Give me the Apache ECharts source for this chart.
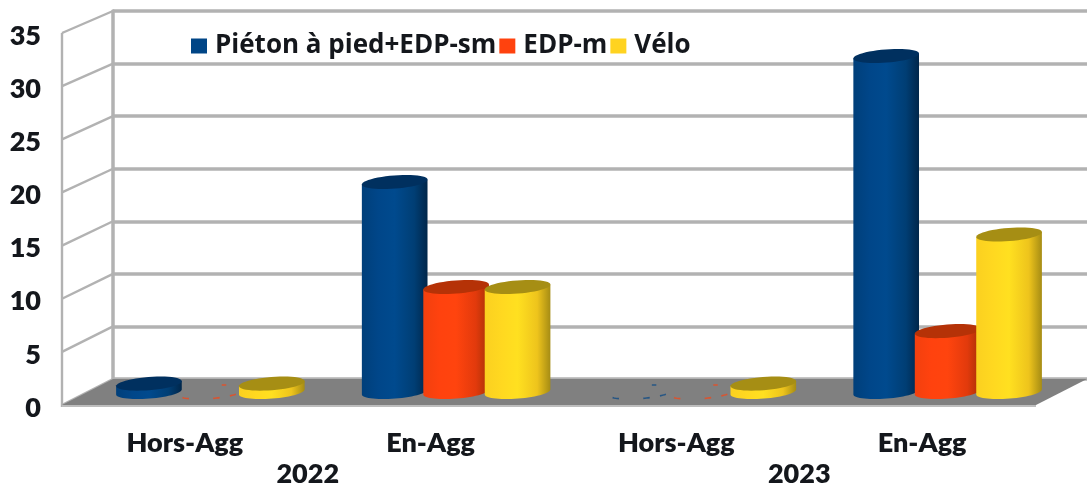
<!DOCTYPE html>
<html><head><meta charset="utf-8">
<style>html,body{margin:0;padding:0;background:#fff}#c{width:1087px;height:488px}</style>
<script src="https://cdn.jsdelivr.net/npm/echarts@6/dist/echarts.min.js"></script>
</head><body><div id="c"></div>
<script>
const categories = ['Hors-Agg', 'En-Agg', 'Hors-Agg', 'En-Agg'];
const years = ['2022', '2023'];
const yTicks = [0, 5, 10, 15, 20, 25, 30, 35];
const seriesNames = ['Piéton à pied+EDP-sm', 'EDP-m', 'Vélo'];
const pietonValues = [0.8, 20, 0, 32];
const edpmValues = [0, 10, 0, 5.8];
const veloValues = [0.8, 10, 0.8, 15];

const chart = echarts.init(document.getElementById('c'), null, {renderer: 'canvas'});
const FONT = 'Lato';
const TXT = '#14171c';
const WALL = '#b2b2b2';
const DEPTH_X = -51, DEPTH_Y0 = 26, DEPTH_YT = 22;

const looks = [
  {main: '#004586', top: '#00305f', stops: ['#003f7a', '#004689', '#004a8e', '#003e74', '#00264a']},
  {main: '#ff420e', top: '#b53207', stops: ['#f2400e', '#ff420e', '#ff440e', '#e23a0c', '#a83006']},
  {main: '#ffd320', top: '#a68e14', stops: ['#fbd020', '#ffd820', '#ffe020', '#eec41c', '#a68c14']}
];

function ell(cx, cy, rx, ry, t) {
  const a = -4.5 * Math.PI / 180;
  return [cx + rx * Math.cos(t) * Math.cos(a) - ry * Math.sin(t) * Math.sin(a),
          cy + rx * Math.cos(t) * Math.sin(a) + ry * Math.sin(t) * Math.cos(a)];
}
function arc(cx, cy, rx, ry, t0, t1, n) {
  const p = [];
  for (let i = 0; i <= n; i++) p.push(ell(cx, cy, rx, ry, t0 + (t1 - t0) * i / n));
  return p;
}

function cylinder(idx) {
  const look = looks[idx];
  return function (params, api) {
    const v = api.value(1);
    const base = api.coord([api.value(0), 0]);
    const top = api.coord([api.value(0), v]);
    const band = api.size([1, 0])[0];
    const cx = base[0] + (idx - 1) * band * 0.25;
    const rx = band * 0.134, ry = 6.6;
    const children = [];
    if (v === 0) {
      // the zero-height cylinders leave only small flecks of colour on the floor
      [[2.3, 2.6], [1.3, 1.5], [0.7, 0.95], [-1.2, -1.05]].forEach(function (r) {
        children.push({type: 'polyline', shape: {points: arc(cx, base[1], rx, ry, r[0], r[1], 4)},
          style: {fill: null, stroke: look.main, lineWidth: 1.6, opacity: 0.7}});
      });
      return {type: 'group', children: children};
    }
    const body = arc(cx, base[1], rx, ry, Math.PI, 0, 30);
    body.unshift(ell(cx, top[1], rx, ry, Math.PI));
    body.push(ell(cx, top[1], rx, ry, 0));
    children.push({type: 'polygon', shape: {points: body}, style: {
      fill: new echarts.graphic.LinearGradient(0, 0, 1, 0, [
        {offset: 0, color: look.stops[0]}, {offset: 0.25, color: look.stops[1]},
        {offset: 0.5, color: look.stops[2]}, {offset: 0.8, color: look.stops[3]},
        {offset: 1, color: look.stops[4]}])
    }});
    children.push({type: 'polygon', shape: {points: arc(cx, top[1], rx, ry, 0, Math.PI * 2, 48)},
      style: {fill: look.top}});
    return {type: 'group', children: children};
  };
}

function floorItem(params, api) {
  const s = params.coordSys;
  const y = s.y + s.height;
  return {type: 'group', children: [
    {type: 'polygon', shape: {points: [[s.x, y], [s.x + s.width, y],
      [s.x + s.width + DEPTH_X, y + DEPTH_Y0], [s.x + DEPTH_X, y + DEPTH_Y0]]},
      style: {fill: '#808080'}},
    {type: 'line', shape: {x1: s.x + DEPTH_X, y1: y + DEPTH_Y0 + 1, x2: s.x + s.width + DEPTH_X, y2: y + DEPTH_Y0 + 1},
      style: {stroke: '#bdbdbd', lineWidth: 2}}
  ]};
}
function wallItem(params, api) {
  const v = api.value(0);
  const s = params.coordSys;
  const y = api.coord([0, v])[1];
  const x0 = s.x;
  const dy = DEPTH_Y0 + (DEPTH_YT - DEPTH_Y0) * v / 35;
  const children = [{type: 'line', shape: {x1: x0, y1: y, x2: x0 + DEPTH_X, y2: y + dy},
    style: {stroke: WALL, lineWidth: 2.4}}];
  if (v === 35) {
    children.push({type: 'line', shape: {x1: x0 + DEPTH_X, y1: y + dy, x2: x0 + DEPTH_X, y2: s.y + s.height + DEPTH_Y0 + 2},
      style: {stroke: WALL, lineWidth: 2.4}});
  }
  return {type: 'group', children: children};
}

const valueSets = [pietonValues, edpmValues, veloValues];

chart.setOption({
  animation: false,
  backgroundColor: '#fff',
  grid: [
    {left: 113, top: 11, width: 983, height: 368},
    {left: 62, top: 36, width: 983, height: 373},
    {left: 87.5, top: 24.5, width: 983, height: 367.5}
  ],
  xAxis: [
    {gridIndex: 0, type: 'category', data: categories, show: false},
    {gridIndex: 1, type: 'category', data: categories, position: 'bottom',
     axisLine: {show: false}, axisTick: {show: false}, splitLine: {show: false},
     axisLabel: {margin: 22, fontFamily: FONT, fontWeight: 800, fontSize: 27, color: TXT}},
    {gridIndex: 1, type: 'category', data: years, position: 'bottom',
     axisLine: {show: false}, axisTick: {show: false}, splitLine: {show: false},
     axisLabel: {margin: 53, fontFamily: FONT, fontWeight: 800, fontSize: 27, color: TXT}},
    {gridIndex: 2, type: 'category', data: categories, show: false}
  ],
  yAxis: [
    {gridIndex: 0, type: 'value', min: 0, max: 35, interval: 5,
     axisLine: {show: true, lineStyle: {color: WALL, width: 3.5}}, axisTick: {show: false},
     axisLabel: {show: false}, splitLine: {show: true, lineStyle: {color: WALL, width: 3.5}}},
    {gridIndex: 1, type: 'value', min: 0, max: 35, interval: 5,
     axisLine: {show: false}, axisTick: {show: false}, splitLine: {show: false},
     axisLabel: {margin: 21, fontFamily: FONT, fontWeight: 800, fontSize: 27, color: TXT}},
    {gridIndex: 2, type: 'value', min: 0, max: 35, interval: 5, show: false}
  ],
  legend: {
    left: 186, top: 28, itemWidth: 16, itemHeight: 15, itemGap: 3, icon: 'rect',
    data: seriesNames,
    textStyle: {fontFamily: 'Open Sans', fontWeight: 700, fontSize: 26, color: TXT, padding: [0, 0, 0, 3]}
  },
  series: [
    {type: 'custom', xAxisIndex: 0, yAxisIndex: 0, z: 3, silent: true, data: [[0]], renderItem: floorItem},
    {type: 'custom', xAxisIndex: 0, yAxisIndex: 0, z: 2, silent: true, data: yTicks.map(v => [v]), renderItem: wallItem}
  ].concat(seriesNames.map(function (name, i) {
    return {
      name: name, type: 'custom', xAxisIndex: 3, yAxisIndex: 2, z: 5 + i,
      itemStyle: {color: looks[i].main},
      encode: {x: 0, y: 1},
      data: valueSets[i].map((v, k) => [k, v]),
      renderItem: cylinder(i)
    };
  }))
});
</script></body></html>
